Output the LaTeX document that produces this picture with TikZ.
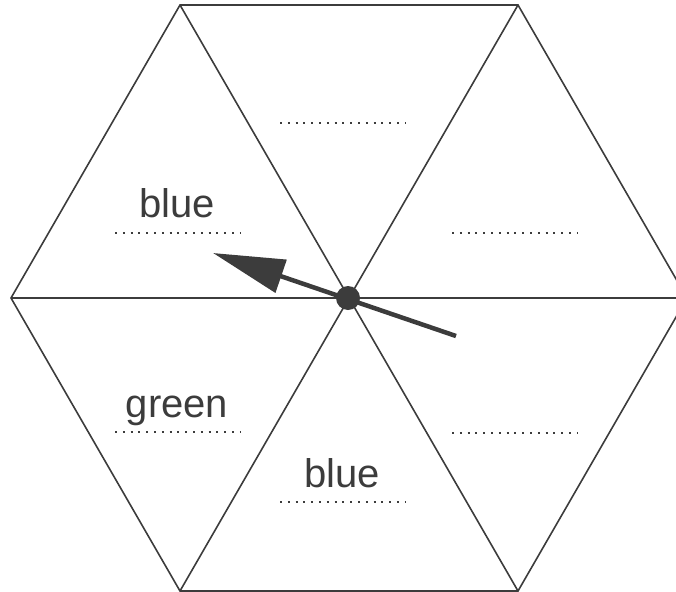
\documentclass[tikz,border=0pt]{standalone}
\usepackage{fontspec}
\setmainfont{Liberation Sans}
\usepackage{tikz}
\usetikzlibrary{arrows.meta,positioning,calc}
\definecolor{spinink}{RGB}{60,60,60}

\begin{document}
\begin{tikzpicture}[x=1pt,y=-1pt,
  edge/.style={draw=spinink,line width=1.6pt,line join=miter},
  word/.style={font=\fontsize{40}{44}\selectfont,text=spinink,anchor=base,inner sep=0pt},
  blank/.style={draw=spinink,line width=2pt,dash pattern=on 2pt off 5.8pt},
  hub/.style={circle,fill=spinink,inner sep=0pt,minimum size=24pt},
  pointer/.style={-{Triangle[length=72pt,width=34pt]},draw=spinink,line width=4.5pt}]

\path[use as bounding box] (0,0) rectangle (676,591);
\clip (0,0) rectangle (676,591);
% hexagon corners
\coordinate (w) at (11,298);
\coordinate (nw) at (180,5);
\coordinate (ne) at (518,5);
\coordinate (e) at (687,298);
\coordinate (se) at (518,591);
\coordinate (sw) at (180,591);
\draw[edge] (w)--(nw)--(ne)--(e)--(se)--(sw)--cycle;
\draw[edge] (w)--(e);
\draw[edge] (nw)--(se);
\draw[edge] (ne)--(sw);
% labels and blanks
\node[word] (topleft) at (177,217) {blue};
\node[word] (midleft) at (177,417) {green};
\node[word] (bottom) at (342,487) {blue};
\draw[blank] (115,233)--(241,233);
\draw[blank] (280,123)--(406,123);
\draw[blank] (452,233)--(578,233);
\draw[blank] (115,432)--(241,432);
\draw[blank] (280,502)--(406,502);
\draw[blank] (452,433)--(578,433);
% spinner
\node[hub] (hub) at (348,298) {};
\coordinate (tail) at (456,336);
\coordinate (tip) at (213,253);
\draw[pointer] (tail)--(tip);

\end{tikzpicture}
\end{document}
